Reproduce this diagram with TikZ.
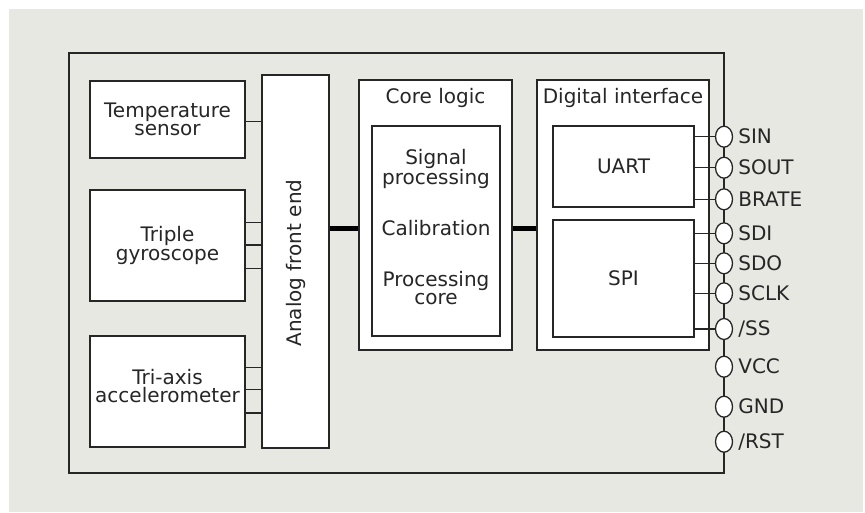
\documentclass[tikz,border=0pt]{standalone}
\usepackage{fontspec}
\setmainfont{DejaVu Sans}
\usetikzlibrary{shapes.geometric}
\definecolor{bg}{RGB}{231,232,226}
\definecolor{ln}{RGB}{38,38,38}
\begin{document}
\begin{tikzpicture}[x=1pt,y=-1pt,
  box/.style={draw=ln,line width=1.3pt,fill=white,inner sep=0pt,align=center,text=ln},
  txt/.style={inner sep=0pt,align=center,text=ln},
  pinshape/.style={ellipse,draw=ln,line width=1.3pt,fill=white,minimum width=17,minimum height=21,inner sep=0pt},
  pinlabel/.style={anchor=west,inner sep=0pt,text=ln},
  wire/.style={draw=ln,line width=1.3pt},
  bus/.style={draw=black,line width=5pt},
  font=\fontsize{20}{18.2}\selectfont]
\useasboundingbox (0,0) rectangle (865,512);
\fill[bg] (9,9) rectangle (863,512);
% outer package
\node[box,fill=none,minimum width=655,minimum height=420] (outer) at (396.5,263) {};
% pins
\node[pinshape] (psin) at (724,136.7) {};
\node[pinshape] (psout) at (724,167.7) {};
\node[pinshape] (pbrate) at (724,199.3) {};
\node[pinshape] (psdi) at (724,233.3) {};
\node[pinshape] (psdo) at (724,263.3) {};
\node[pinshape] (psclk) at (724,293.3) {};
\node[pinshape] (pss) at (724,329) {};
\node[pinshape] (pvcc) at (724,366.7) {};
\node[pinshape] (pgnd) at (724,406.7) {};
\node[pinshape] (prst) at (724,441.7) {};
\node[pinlabel] (lsin) at ([xshift=5]psin.east) {SIN};
\node[pinlabel] (lsout) at ([xshift=5]psout.east) {SOUT};
\node[pinlabel] (lbrate) at ([xshift=5]pbrate.east) {BRATE};
\node[pinlabel] (lsdi) at ([xshift=5]psdi.east) {SDI};
\node[pinlabel] (lsdo) at ([xshift=5]psdo.east) {SDO};
\node[pinlabel] (lsclk) at ([xshift=5]psclk.east) {SCLK};
\node[pinlabel] (lss) at ([xshift=5]pss.east) {/SS};
\node[pinlabel] (lvcc) at ([xshift=5]pvcc.east) {VCC};
\node[pinlabel] (lgnd) at ([xshift=5]pgnd.east) {GND};
\node[pinlabel] (lrst) at ([xshift=5]prst.east) {/RST};
% sensors
\node[box,minimum width=155,minimum height=77] (temp) at (167.5,119.5) {Temperature\\sensor};
\node[box,minimum width=155,minimum height=111] (gyro) at (167.5,245.5) {Triple\\gyroscope};
\node[box,minimum width=155,minimum height=111] (acc) at (167.5,391.5) {};
\node[txt] (acctxt) at (167.5,386) {Tri-axis\\accelerometer};
\node[box,minimum width=67,minimum height=373] (afe) at (295.5,261.5) {};
\node[txt,rotate=90] (afetxt) at (295.5,263) {Analog front end};
% core logic
\node[box,minimum width=153,minimum height=270] (core) at (435.5,215) {};
\node[txt] (coretitle) at (435.5,98) {Core logic};
\node[box,minimum width=128,minimum height=210] (proc) at (436,231) {};
\node[txt] (sig) at (436,169) {Signal\\processing};
\node[txt] (cal) at (436,228) {Calibration};
\node[txt] (pcore) at (436,288) {Processing\\core};
% digital interface
\node[box,minimum width=172,minimum height=270] (dig) at (623,215) {};
\node[txt] (digtitle) at (623,98) {Digital interface};
\node[box,minimum width=141,minimum height=81] (uart) at (623.5,166.5) {UART};
\node[box,minimum width=141,minimum height=117] (spi) at (623.5,278.5) {SPI};
% sensor wires
\draw[wire] (temp.east |- 0,121.3) -- (afe.west |- 0,121.3);
\foreach \yy in {222.7,245,268.3} \draw[wire] (gyro.east |- 0,\yy) -- (afe.west |- 0,\yy);
\foreach \yy in {367.3,389.7,413} \draw[wire] (acc.east |- 0,\yy) -- (afe.west |- 0,\yy);
% buses
\draw[bus] (afe.east |- 0,228) -- (core.west |- 0,228);
\draw[bus] (core.east |- 0,228) -- (dig.west |- 0,228);
% interface wires
\draw[wire] (uart.east |- psin) -- (psin.west);
\draw[wire] (uart.east |- psout) -- (psout.west);
\draw[wire] (uart.east |- pbrate) -- (pbrate.west);
\draw[wire] (spi.east |- psdi) -- (psdi.west);
\draw[wire] (spi.east |- psdo) -- (psdo.west);
\draw[wire] (spi.east |- psclk) -- (psclk.west);
\draw[wire] (spi.east |- pss) -- (pss.west);
\end{tikzpicture}
\end{document}
